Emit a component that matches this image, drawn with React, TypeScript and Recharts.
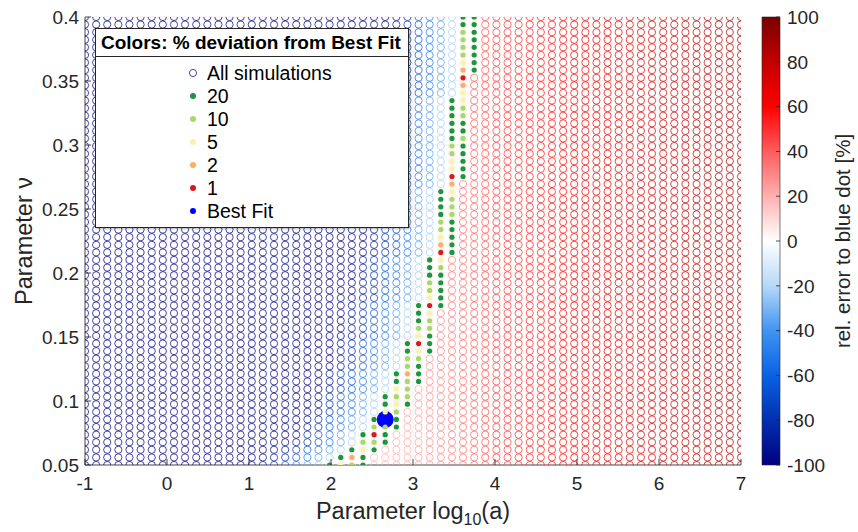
import React from 'react';
import {
  ScatterChart,
  Scatter,
  XAxis,
  YAxis,
  CartesianGrid,
  Legend,
  ComposedChart,
  ReferenceArea,
} from 'recharts';

const FONT = '"Liberation Sans", Arial, Helvetica, sans-serif';
const AX = '#262626';

// simulation grid: log10(a) columns and nu rows
const xGrid = [
  -1.0, -0.864, -0.729, -0.593, -0.458, -0.322, -0.186, -0.051, 0.085, 0.22,
  0.356, 0.492, 0.627, 0.763, 0.898, 1.034, 1.169, 1.305, 1.441, 1.576,
  1.712, 1.847, 1.983, 2.119, 2.254, 2.39, 2.525, 2.661, 2.797, 2.932,
  3.068, 3.203, 3.339, 3.475, 3.61, 3.746, 3.881, 4.017, 4.153, 4.288,
  4.424, 4.559, 4.695, 4.831, 4.966, 5.102, 5.237, 5.373, 5.508, 5.644,
  5.78, 5.915, 6.051, 6.186, 6.322, 6.458, 6.593, 6.729, 6.864, 7.0,
];
const yGrid = [
  0.05, 0.0559, 0.0619, 0.0678, 0.0737, 0.0797, 0.0856, 0.0915, 0.0975, 0.1034,
  0.1093, 0.1153, 0.1212, 0.1271, 0.1331, 0.139, 0.1449, 0.1508, 0.1568, 0.1627,
  0.1686, 0.1746, 0.1805, 0.1864, 0.1924, 0.1983, 0.2042, 0.2102, 0.2161, 0.222,
  0.228, 0.2339, 0.2398, 0.2458, 0.2517, 0.2576, 0.2636, 0.2695, 0.2754, 0.2814,
  0.2873, 0.2932, 0.2992, 0.3051, 0.311, 0.3169, 0.3229, 0.3288, 0.3347, 0.3407,
  0.3466, 0.3525, 0.3585, 0.3644, 0.3703, 0.3763, 0.3822, 0.3881, 0.3941, 0.4,
];

const xTicks = [-1, 0, 1, 2, 3, 4, 5, 6, 7];
const yTicks = [0.05, 0.1, 0.15, 0.2, 0.25, 0.3, 0.35, 0.4];
const cbTicks = [-100, -80, -60, -40, -20, 0, 20, 40, 60, 80, 100];

// deviation classes: [column index, row index] into xGrid / yGrid
const dev20 = [
  [22, 0], [25, 0], [23, 1], [25, 1], [24, 2], [26, 2], [27, 3], [25, 4], [27, 4], [28, 5],
  [26, 6], [28, 6], [27, 8], [29, 8], [27, 9], [28, 11], [30, 11], [28, 12], [30, 12], [30, 13],
  [29, 15], [31, 15], [29, 16], [31, 16], [31, 17], [30, 19], [30, 20], [30, 21], [32, 21], [32, 22],
  [32, 23], [32, 24], [31, 25], [32, 25], [31, 26], [31, 27], [33, 28], [33, 29], [33, 30], [33, 31],
  [33, 32], [32, 33], [32, 34], [32, 35], [32, 36], [34, 38], [34, 39], [34, 40], [34, 41], [34, 42],
  [33, 43], [33, 44], [34, 44], [33, 45], [34, 45], [33, 46], [33, 47], [33, 48], [35, 52], [35, 53],
  [35, 54], [35, 55], [35, 56], [35, 57], [34, 58], [35, 58], [34, 59], [35, 59],
];
const dev10 = [
  [24, 0], [25, 3], [26, 3], [26, 5], [27, 5], [28, 7], [28, 9], [29, 9], [29, 10], [29, 11],
  [29, 13], [29, 14], [30, 14], [30, 18], [31, 18], [31, 19], [31, 23], [31, 24], [32, 26], [32, 31],
  [32, 32], [33, 33], [33, 34], [33, 35], [33, 41], [33, 42], [34, 43], [34, 46], [34, 47], [34, 54],
  [34, 55], [34, 56], [34, 57],
];
const dev5 = [
  [23, 0], [25, 2], [27, 7], [28, 8], [28, 10], [30, 15], [30, 17], [31, 20], [31, 22], [32, 27],
  [32, 30], [33, 36], [33, 39], [33, 40], [34, 48], [34, 49], [34, 53],
];
const dev2 = [[24, 1], [29, 12], [32, 29], [33, 37], [34, 50], [34, 52]];
const dev1 = [[26, 4], [30, 16], [31, 21], [32, 28], [33, 38], [34, 51]];
const bestFit = [[27, 6]];

// relative error of the open circles
const leftErrByOffset = [-22, -35, -50, -65, -80, -92, -100]; // columns left of the band
const rightErrByX = [
  [2.0, 14], [3.0, 22], [3.5, 33], [4.0, 46], [5.0, 62], [6.0, 75], [7.0, 88],
]; // right of the band
const bandErr = 6;

// colormap of the colorbar
const cmapStops: [number, string][] = [
  [-100, '#000080'], [-80, '#0030b0'], [-60, '#0a62e4'], [-40, '#3f94f2'], [-20, '#b6d8f8'],
  [0, '#ffffff'], [20, '#ffb0b0'], [40, '#ff5c5c'], [60, '#ff0000'], [80, '#c40000'], [100, '#780000'],
];

const legendLabels = ['All simulations', '20', '10', '5', '2', '1', 'Best Fit'];
const dotColors = ['#1a9641', '#a6d96a', '#f7f4a8', '#fdae61', '#d7191c'];
const bestColor = '#0000ff';

const hex = (h: string) => [1, 3, 5].map((i) => parseInt(h.slice(i, i + 2), 16));
const toHex = (v: number[]) =>
  '#' + v.map((c) => Math.round(Math.max(0, Math.min(255, c))).toString(16).padStart(2, '0')).join('');
function cmap(v: number) {
  const t = Math.max(-100, Math.min(100, v));
  for (let i = 0; i < cmapStops.length - 1; i++) {
    const [a, ca] = cmapStops[i];
    const [b, cb] = cmapStops[i + 1];
    if (t >= a && t <= b) {
      const f = (t - a) / (b - a);
      const A = hex(ca);
      const B = hex(cb);
      return toHex(A.map((c, k) => c + (B[k] - c) * f));
    }
  }
  return cmapStops[cmapStops.length - 1][1];
}
function interp(stops: number[][], x: number) {
  if (x <= stops[0][0]) return stops[0][1];
  for (let i = 0; i < stops.length - 1; i++) {
    if (x >= stops[i][0] && x <= stops[i + 1][0]) {
      const f = (x - stops[i][0]) / (stops[i + 1][0] - stops[i][0]);
      return stops[i][1] + (stops[i + 1][1] - stops[i][1]) * f;
    }
  }
  return stops[stops.length - 1][1];
}

// band limits per row from the classified dots
const allDots = [...dev20, ...dev10, ...dev5, ...dev2, ...dev1, ...bestFit];
const bandL = yGrid.map((_, r) => Math.min(...allDots.filter((d) => d[1] === r).map((d) => d[0])));
const bandR = yGrid.map((_, r) => Math.max(...allDots.filter((d) => d[1] === r).map((d) => d[0])));

function errAt(col: number, row: number) {
  const L = bandL[row];
  const R = bandR[row];
  if (col < L) return leftErrByOffset[Math.min(L - col, leftErrByOffset.length) - 1];
  if (col > R) return interp(rightErrByX, xGrid[col]);
  return bandErr;
}

const gridData: { x: number; y: number; c: string }[] = [];
yGrid.forEach((y, r) => {
  xGrid.forEach((x, c) => {
    gridData.push({ x, y, c: cmap(errAt(c, r)) });
  });
});
const toPts = (arr: number[][]) => arr.map(([c, r]) => ({ x: xGrid[c], y: yGrid[r] }));
const dotSeries = [dev20, dev10, dev5, dev2, dev1].map(toPts);
const bestData = toPts(bestFit);

const ptX = (p: any) => (p.cx !== undefined ? p.cx : p.x + (p.width || 0) / 2);
const ptY = (p: any) => (p.cy !== undefined ? p.cy : p.y + (p.height || 0) / 2);

const OpenShape = (p: any) => (
  <circle
    cx={ptX(p)}
    cy={ptY(p)}
    r={3.6}
    fill="none"
    stroke={p.payload.c}
    strokeOpacity={0.8}
    strokeWidth={0.9}
  />
);
const makeDot = (color: string, r: number) => (p: any) => (
  <circle cx={ptX(p)} cy={ptY(p)} r={r} fill={color} stroke="none" />
);

const BottomTick = (p: any) => (
  <g>
    <line x1={p.x} x2={p.x} y1={p.y} y2={p.y - 6} stroke={AX} strokeWidth={0.8} />
    <text x={p.x} y={p.y + 25} textAnchor="middle" fontSize={19} fill={AX} fontFamily={FONT}>
      {p.payload.value}
    </text>
  </g>
);
const TopTick = (p: any) => (
  <line x1={p.x} x2={p.x} y1={p.y} y2={p.y + 6} stroke={AX} strokeWidth={0.8} />
);
const LeftTick = (p: any) => (
  <g>
    <line x1={p.x} x2={p.x + 6} y1={p.y} y2={p.y} stroke={AX} strokeWidth={0.8} />
    <text x={p.x - 6} y={p.y} dy="0.36em" textAnchor="end" fontSize={19} fill={AX} fontFamily={FONT}>
      {p.payload.value}
    </text>
  </g>
);
const RightTick = (p: any) => (
  <line x1={p.x} x2={p.x - 6} y1={p.y} y2={p.y} stroke={AX} strokeWidth={0.8} />
);
const CbTick = (p: any) => (
  <g>
    <line x1={p.x} x2={p.x - 4} y1={p.y} y2={p.y} stroke={AX} strokeWidth={0.8} />
    <text x={p.x + 7} y={p.y} dy="0.36em" textAnchor="start" fontSize={19} fill={AX} fontFamily={FONT}>
      {p.payload.value}
    </text>
  </g>
);

const XTitle = (p: any) => {
  const vb = p.viewBox || { x: 85, y: 465, width: 656, height: 30 };
  const cx = vb.x + vb.width / 2;
  return (
    <text x={cx} y={vb.y + 54} textAnchor="middle" fontSize={23.5} fill={AX} fontFamily={FONT}>
      Parameter log
      <tspan fontSize={16} dy={6}>10</tspan>
      <tspan dy={-6}>(a)</tspan>
    </text>
  );
};
const YTitle = (p: any) => {
  const vb = p.viewBox || { x: 5, y: 17, width: 80, height: 448 };
  const cx = vb.x + 27;
  const cy = vb.y + vb.height / 2;
  return (
    <text x={cx} y={cy} transform={`rotate(-90, ${cx}, ${cy})`} textAnchor="middle" fontSize={23.5} fill={AX} fontFamily={FONT}>
      Parameter ν
    </text>
  );
};
const CbTitle = (p: any) => {
  const vb = p.viewBox || { x: 780, y: 17, width: 70, height: 448 };
  const cx = vb.x + 70;
  const cy = vb.y + vb.height / 2;
  return (
    <text x={cx} y={cy} transform={`rotate(-90, ${cx}, ${cy})`} textAnchor="middle" fontSize={20.5} fill={AX} fontFamily={FONT}>
      rel. error to blue dot [%]
    </text>
  );
};

const LegendBox = () => {
  const markers = [
    { kind: 'open', color: cmap(-100) },
    ...dotColors.map((c) => ({ kind: 'dot', color: c })),
    { kind: 'dot', color: bestColor },
  ];
  return (
    <div
      style={{
        position: 'relative',
        width: 314,
        height: 200,
        boxSizing: 'border-box',
        border: `1px solid ${AX}`,
        background: '#fff',
        boxShadow: '1px 1px 2px rgba(0,0,0,0.3)',
        fontFamily: FONT,
        color: '#000',
      }}
    >
      <div
        style={{
          height: 27,
          borderBottom: `1px solid ${AX}`,
          fontWeight: 'bold',
          fontSize: 19,
          lineHeight: '27px',
          paddingLeft: 5,
          whiteSpace: 'nowrap',
        }}
      >
        Colors: % deviation from Best Fit
      </div>
      {legendLabels.map((lab, i) => (
        <div
          key={lab}
          style={{
            position: 'absolute',
            left: 90,
            top: 44 + i * 23 - 11,
            height: 22,
            display: 'flex',
            alignItems: 'center',
            fontSize: 19.5,
            whiteSpace: 'nowrap',
          }}
        >
          <svg width={14} height={14} style={{ display: 'block' }}>
            {markers[i].kind === 'open' ? (
              <circle cx={7} cy={7} r={3.6} fill="none" stroke={markers[i].color} strokeOpacity={0.8} strokeWidth={0.9} />
            ) : (
              <circle cx={7} cy={7} r={3} fill={markers[i].color} />
            )}
          </svg>
          <span style={{ marginLeft: 7 }}>{lab}</span>
        </div>
      ))}
    </div>
  );
};

export default function App() {
  return (
    <div
      style={{
        position: 'absolute',
        left: 0,
        top: 0,
        width: 858,
        height: 532,
        background: '#fff',
        fontFamily: FONT,
      }}
    >
      <ScatterChart width={858} height={532} margin={{ top: 17, right: 117, bottom: 37, left: 5 }}>
        <CartesianGrid stroke="#e6e6e6" strokeWidth={0.7} />
        <XAxis
          type="number"
          dataKey="x"
          domain={[-1, 7]}
          ticks={xTicks}
          interval={0}
          height={30}
          tickSize={0}
          tickMargin={0}
          tickLine={false}
          tick={BottomTick}
          axisLine={{ stroke: AX, strokeWidth: 0.8 }}
          allowDataOverflow
          label={<XTitle />}
        />
        <YAxis
          type="number"
          dataKey="y"
          domain={[0.05, 0.4]}
          ticks={yTicks}
          interval={0}
          width={80}
          tickSize={0}
          tickMargin={0}
          tickLine={false}
          tick={LeftTick}
          axisLine={{ stroke: AX, strokeWidth: 0.8 }}
          allowDataOverflow
          label={<YTitle />}
        />
        <XAxis
          xAxisId="top"
          orientation="top"
          type="number"
          domain={[-1, 7]}
          ticks={xTicks}
          interval={0}
          height={0}
          tickSize={0}
          tickMargin={0}
          tickLine={false}
          tick={TopTick}
          axisLine={{ stroke: AX, strokeWidth: 0.8 }}
          allowDataOverflow
        />
        <YAxis
          yAxisId="right"
          orientation="right"
          type="number"
          domain={[0.05, 0.4]}
          ticks={yTicks}
          interval={0}
          width={0}
          tickSize={0}
          tickMargin={0}
          tickLine={false}
          tick={RightTick}
          axisLine={{ stroke: AX, strokeWidth: 0.8 }}
          allowDataOverflow
        />
        <Scatter name="All simulations" data={gridData} shape={OpenShape} isAnimationActive={false} />
        <Scatter name="Best Fit" data={bestData} shape={makeDot(bestColor, 8.5)} isAnimationActive={false} />
        {dotSeries.map((d, i) => (
          <Scatter
            key={i}
            name={legendLabels[i + 1]}
            data={d}
            shape={makeDot(dotColors[i], 2.6)}
            isAnimationActive={false}
          />
        ))}
        <Legend
          layout="horizontal"
          verticalAlign="middle"
          align="center"
          wrapperStyle={{ left: 95, top: 28, width: 314, height: 200 }}
          content={() => <LegendBox />}
        />
      </ScatterChart>

      <div style={{ position: 'absolute', left: 700, top: 0 }}>
        <ComposedChart
          width={158}
          height={532}
          data={[{ x: 0 }, { x: 1 }]}
          margin={{ top: 17, right: 8, bottom: 67, left: 62 }}
        >
          <defs>
            <linearGradient id="cbGrad" x1="0" y1="1" x2="0" y2="0">
              {cmapStops.map(([v, c]) => (
                <stop key={v} offset={`${(v + 100) / 2}%`} stopColor={c} />
              ))}
            </linearGradient>
          </defs>
          <XAxis type="number" dataKey="x" domain={[0, 1]} hide />
          <YAxis
            orientation="right"
            type="number"
            domain={[-100, 100]}
            ticks={cbTicks}
            interval={0}
            width={70}
            tickSize={0}
            tickMargin={0}
            tickLine={false}
            tick={CbTick}
            axisLine={false}
            allowDataOverflow
            label={<CbTitle />}
          />
          <ReferenceArea x1={0} x2={1} y1={-100} y2={100} fill="url(#cbGrad)" fillOpacity={1} stroke={AX} strokeWidth={0.6} ifOverflow="visible" />
        </ComposedChart>
      </div>
    </div>
  );
}
